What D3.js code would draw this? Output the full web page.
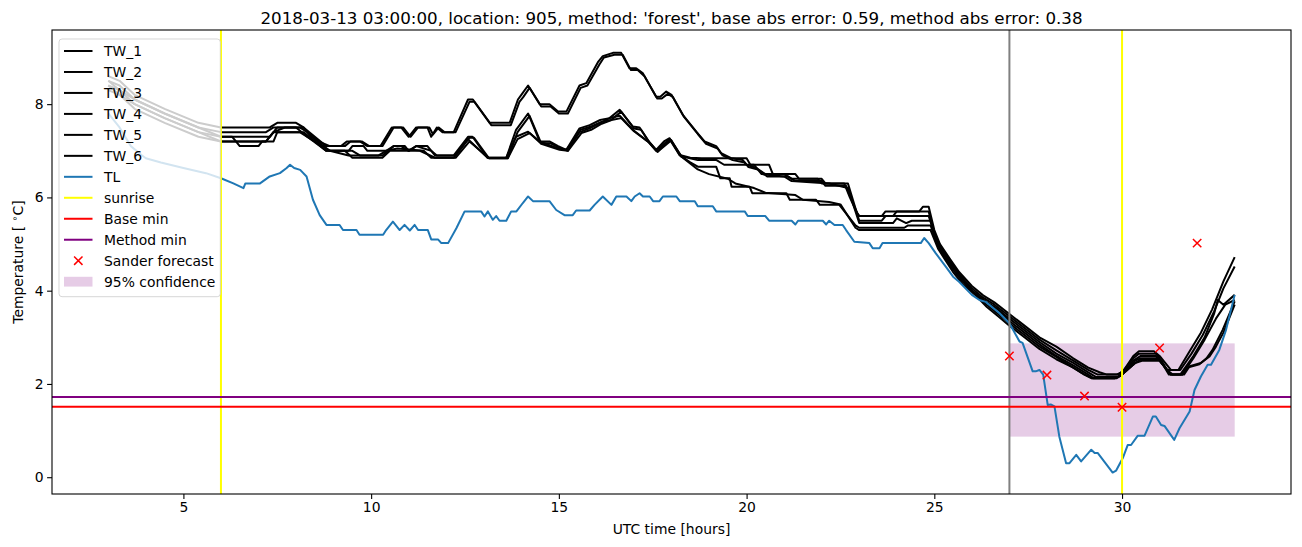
<!DOCTYPE html>
<html><head><meta charset="utf-8">
<script src="https://cdn.jsdelivr.net/npm/d3@7"></script>
<style>body{margin:0;background:#fff}svg{display:block}text{font-family:"DejaVu Sans",sans-serif;fill:#000}</style>
</head><body><svg id="c" width="1302" height="547"></svg>
<script>
// ---- data (hours, °C) ----
const tw1 = [[3,8.6],[3.3,8.5],[3.7,8.2],[4.5,7.9],[5.4,7.6],[6,7.5],[7.3,7.5],[7.5,7.6],[8.0,7.6],[8.2,7.5],[8.5,7.3],[8.8,7.1],[9.2,7.1],[9.35,7.2],[9.7,7.2],[9.9,7.1],[10.25,7.1],[10.55,7.5],[10.8,7.5],[11.0,7.3],[11.2,7.5],[11.5,7.5],[11.6,7.3],[11.75,7.5],[11.9,7.4],[12.2,7.4],[12.58,8.1],[12.71,8.1],[13.16,7.6],[13.69,7.6],[13.91,8.1],[14.0,8.2],[14.18,8.4],[14.49,8.0],[14.75,8.0],[14.98,7.84],[15.2,7.84],[15.55,8.4],[15.73,8.45],[16.04,8.9],[16.17,9.03],[16.44,9.1],[16.66,9.1],[16.88,8.77],[17.06,8.77],[17.24,8.66],[17.59,8.16],[17.7,8.16],[17.86,8.27],[18.0,8.2],[18.3,7.77],[18.66,7.41],[18.88,7.2],[19.19,7.1],[19.32,6.95],[19.59,6.84],[19.9,6.8],[20.0,6.7],[20.26,6.63],[20.5,6.5],[21.0,6.5],[21.2,6.4],[21.9,6.4],[22.0,6.3],[22.6,6.3],[22.75,6.0],[22.92,5.7],[23.0,5.6],[23.6,5.6],[23.7,5.7],[24.6,5.7],[24.7,5.8],[24.85,5.8],[25.0,5.3],[25.15,5.0],[25.4,4.7],[25.66,4.4],[26.0,4.1],[26.3,3.9],[26.6,3.75],[27.0,3.5],[27.4,3.25],[27.8,3.0],[28.25,2.8],[28.7,2.55],[29.1,2.35],[29.4,2.25],[29.6,2.2],[29.9,2.2],[30.05,2.3],[30.3,2.6],[30.45,2.7],[30.85,2.7],[31.0,2.6],[31.15,2.45],[31.3,2.3],[31.5,2.3],[31.8,2.7],[32.1,3.1],[32.4,3.6],[32.7,4.2],[33.0,4.72]];
const tw2 = [[3,8.5],[3.3,8.4],[3.7,8.1],[4.5,7.8],[5.4,7.5],[6,7.4],[7.2,7.4],[7.4,7.5],[8.1,7.5],[8.3,7.4],[8.6,7.2],[8.9,7.1],[9.3,7.1],[9.45,7.2],[9.75,7.2],[9.95,7.1],[10.3,7.1],[10.6,7.5],[10.85,7.5],[11.05,7.3],[11.25,7.5],[11.55,7.5],[11.65,7.35],[11.8,7.5],[11.95,7.4],[12.25,7.4],[12.62,8.05],[12.75,8.05],[13.2,7.55],[13.72,7.55],[13.95,8.05],[14.05,8.15],[14.22,8.35],[14.53,7.95],[14.78,7.95],[15.0,7.8],[15.24,7.8],[15.58,8.35],[15.76,8.4],[16.08,8.85],[16.2,9.0],[16.48,9.06],[16.7,9.06],[16.92,8.73],[17.1,8.73],[17.28,8.6],[17.62,8.12],[17.74,8.12],[17.9,8.22],[18.04,8.15],[18.34,7.72],[18.7,7.36],[18.92,7.15],[19.23,7.05],[19.36,6.9],[19.63,6.8],[19.95,6.75],[20.05,6.65],[20.3,6.6],[20.55,6.45],[21.1,6.45],[21.3,6.35],[22.0,6.35],[22.1,6.25],[22.65,6.25],[22.95,5.65],[23.0,5.6],[23.9,5.6],[24.0,5.7],[24.85,5.7],[25.0,5.2],[25.15,4.95],[25.4,4.65],[25.66,4.35],[26.0,4.05],[26.3,3.85],[26.6,3.7],[27.0,3.45],[27.4,3.2],[27.8,2.95],[28.25,2.72],[28.7,2.5],[29.1,2.3],[29.35,2.2],[29.85,2.2],[30.0,2.25],[30.3,2.55],[30.45,2.65],[30.9,2.65],[31.05,2.5],[31.2,2.3],[31.55,2.3],[31.85,2.65],[32.15,3.05],[32.45,3.55],[32.7,4.05],[33.0,4.52]];
const tw3 = [[3,8.5],[3.3,8.3],[3.7,8.1],[4.5,7.8],[5.4,7.5],[6,7.3],[6.3,7.3],[6.4,7.2],[7.2,7.2],[7.4,7.4],[7.7,7.5],[8.0,7.5],[8.3,7.3],[8.8,7.0],[9.4,7.0],[9.5,7.1],[9.8,7.1],[9.9,7.0],[10.4,7.0],[10.6,7.1],[10.9,7.1],[11.0,7.0],[11.2,7.1],[11.5,7.1],[11.7,6.9],[12.2,6.9],[12.58,7.3],[12.7,7.3],[13.1,6.85],[13.6,6.85],[13.86,7.45],[14.18,7.8],[14.49,7.2],[14.75,7.2],[14.98,7.1],[15.2,7.02],[15.55,7.48],[15.82,7.55],[16.1,7.66],[16.35,7.7],[16.62,7.88],[16.97,7.52],[17.15,7.5],[17.37,7.23],[17.59,7.02],[17.8,7.2],[17.95,7.27],[18.22,6.91],[18.5,6.85],[18.8,6.84],[20.0,6.84],[20.1,6.7],[20.6,6.7],[20.7,6.5],[21.3,6.5],[21.4,6.4],[22.0,6.4],[22.1,6.3],[22.7,6.3],[23.0,5.5],[23.6,5.5],[23.7,5.6],[24.4,5.6],[24.85,5.6],[25.05,5.1],[25.2,4.9],[25.45,4.6],[25.7,4.3],[26.0,4.0],[26.3,3.8],[26.6,3.65],[27.0,3.4],[27.4,3.15],[27.8,2.9],[28.25,2.65],[28.7,2.45],[29.1,2.25],[29.3,2.15],[29.9,2.15],[30.0,2.2],[30.3,2.5],[30.5,2.6],[30.9,2.6],[31.1,2.4],[31.25,2.2],[31.55,2.2],[31.9,2.6],[32.2,3.0],[32.45,3.5],[32.55,3.8],[32.7,3.7],[33.0,3.91]];
const tw4 = [[3,8.4],[3.3,8.3],[3.7,8.0],[4.5,7.7],[5.4,7.4],[6,7.3],[7.3,7.3],[7.5,7.5],[8.2,7.5],[8.4,7.3],[8.9,7.0],[9.5,7.0],[9.7,6.9],[10.3,6.9],[10.6,7.1],[10.8,7.1],[11.0,7.0],[11.2,7.1],[11.6,7.0],[11.75,6.9],[12.25,6.9],[12.62,7.28],[12.74,7.28],[13.14,6.84],[13.64,6.84],[13.9,7.4],[14.22,7.75],[14.53,7.16],[14.78,7.16],[15.02,7.06],[15.24,7.0],[15.58,7.45],[15.86,7.52],[16.14,7.62],[16.39,7.66],[16.66,7.84],[17.0,7.48],[17.19,7.45],[17.41,7.18],[17.63,6.98],[17.84,7.16],[17.99,7.23],[18.26,6.88],[18.7,6.8],[19.2,6.8],[19.4,6.7],[20.2,6.7],[20.4,6.5],[21.0,6.45],[21.2,6.35],[22.2,6.3],[22.7,6.2],[23.0,5.45],[23.9,5.45],[24.0,5.55],[24.25,5.45],[24.4,5.5],[24.9,5.5],[25.1,5.0],[25.3,4.75],[25.5,4.5],[25.7,4.3],[26.0,4.0],[26.4,3.75],[26.7,3.6],[27.0,3.35],[27.4,3.1],[27.8,2.85],[28.25,2.6],[28.7,2.4],[29.1,2.2],[29.25,2.12],[29.85,2.12],[30.0,2.2],[30.35,2.5],[30.5,2.55],[30.95,2.55],[31.15,2.35],[31.3,2.2],[31.6,2.2],[31.9,2.55],[32.2,2.95],[32.5,3.4],[32.75,3.7],[33.0,3.8]];
const tw5 = [[3,8.4],[3.3,8.2],[3.7,8.0],[4.5,7.7],[5.4,7.4],[6,7.2],[6.4,7.2],[6.5,7.1],[7.0,7.1],[7.1,7.2],[7.4,7.2],[7.5,7.4],[8.2,7.4],[8.5,7.2],[8.8,7.0],[9.3,7.0],[9.5,6.85],[10.3,6.85],[10.5,7.0],[11.3,7.0],[11.7,6.85],[12.2,6.85],[12.58,7.25],[13.1,6.85],[13.6,6.85],[13.86,7.3],[14.18,7.41],[14.49,7.2],[14.98,7.05],[15.2,7.02],[15.55,7.4],[15.82,7.48],[16.1,7.6],[16.35,7.7],[16.62,7.75],[16.97,7.45],[17.37,7.2],[17.59,7.0],[17.95,7.25],[18.22,6.9],[18.5,6.75],[18.7,6.66],[19.19,6.66],[19.3,6.41],[19.55,6.41],[19.6,6.23],[20.08,6.23],[20.15,6.09],[21.06,6.09],[21.15,5.95],[21.85,5.95],[21.95,5.84],[22.47,5.84],[22.9,5.4],[23.0,5.35],[24.2,5.35],[24.3,5.4],[24.9,5.4],[25.1,4.95],[25.3,4.7],[25.5,4.45],[25.75,4.2],[26.05,3.95],[26.4,3.7],[26.7,3.5],[27.0,3.3],[27.4,3.05],[27.8,2.8],[28.25,2.58],[28.7,2.35],[29.0,2.2],[29.2,2.12],[29.8,2.12],[30.0,2.2],[30.35,2.45],[30.5,2.52],[31.0,2.52],[31.15,2.35],[31.3,2.2],[31.6,2.2],[31.75,2.35],[32.06,2.42],[32.25,2.55],[32.41,2.73],[32.68,3.16],[33.0,3.77]];
const tw6 = [[3,8.3],[3.3,8.2],[3.7,7.9],[4.5,7.6],[5.4,7.3],[6,7.2],[7.2,7.2],[7.4,7.4],[8.1,7.4],[8.3,7.3],[8.7,7.1],[8.9,7.0],[9.4,6.9],[10.2,6.9],[10.4,7.0],[10.7,7.05],[11.4,7.0],[11.6,6.85],[12.25,6.85],[12.62,7.2],[13.14,6.84],[13.64,6.84],[13.9,7.25],[14.22,7.38],[14.53,7.15],[15.02,7.02],[15.24,7.0],[15.6,7.38],[15.86,7.45],[16.14,7.58],[16.4,7.66],[16.66,7.7],[17.0,7.42],[17.4,7.18],[17.63,6.98],[17.99,7.22],[18.26,6.88],[18.7,6.6],[19.0,6.5],[19.5,6.4],[19.7,6.3],[20.2,6.2],[20.5,6.1],[21.3,6.05],[21.5,5.95],[22.2,5.9],[22.5,5.85],[22.9,5.35],[23.0,5.3],[24.9,5.3],[25.1,4.9],[25.3,4.65],[25.5,4.4],[25.75,4.15],[26.1,3.9],[26.4,3.65],[26.7,3.45],[27.0,3.25],[27.4,3.0],[27.8,2.75],[28.25,2.53],[28.7,2.35],[29.0,2.2],[29.2,2.12],[29.8,2.12],[30.0,2.2],[30.35,2.45],[30.55,2.5],[31.0,2.5],[31.2,2.3],[31.35,2.2],[31.65,2.2],[31.8,2.38],[32.1,2.45],[32.33,2.59],[32.5,2.8],[32.7,3.1],[33.0,3.7]];
const tl = [[3.0,7.8],[3.3,7.5],[3.6,7.1],[3.9,6.9],[4.0,6.84],[4.4,6.75],[5.0,6.63],[5.6,6.52],[6.0,6.41],[6.33,6.3],[6.6,6.2],[6.65,6.3],[7.04,6.3],[7.3,6.45],[7.57,6.52],[7.75,6.63],[7.84,6.7],[7.95,6.63],[8.11,6.59],[8.28,6.45],[8.45,5.95],[8.63,5.62],[8.81,5.41],[9.16,5.41],[9.25,5.3],[9.61,5.3],[9.69,5.2],[10.32,5.2],[10.4,5.3],[10.58,5.48],[10.76,5.3],[10.89,5.41],[11.03,5.29],[11.16,5.41],[11.25,5.3],[11.51,5.3],[11.6,5.1],[11.78,5.1],[11.87,5.02],[12.05,5.02],[12.27,5.34],[12.49,5.7],[12.93,5.7],[13.02,5.59],[13.11,5.7],[13.24,5.52],[13.33,5.6],[13.42,5.5],[13.6,5.5],[13.73,5.7],[13.87,5.7],[14.04,5.88],[14.18,6.02],[14.31,5.92],[14.75,5.92],[14.93,5.73],[15.15,5.62],[15.37,5.62],[15.46,5.72],[15.82,5.72],[15.95,5.84],[16.17,6.02],[16.4,5.84],[16.53,6.02],[16.8,6.02],[16.93,5.92],[17.02,6.02],[17.15,6.09],[17.24,6.02],[17.42,6.02],[17.51,5.92],[17.68,5.92],[17.77,6.02],[18.13,6.02],[18.22,5.92],[18.62,5.92],[18.7,5.81],[19.1,5.81],[19.19,5.7],[19.95,5.7],[20.03,5.6],[20.5,5.6],[20.6,5.5],[21.2,5.5],[21.3,5.42],[21.37,5.5],[22.03,5.5],[22.12,5.42],[22.2,5.5],[22.34,5.41],[22.56,5.41],[22.65,5.3],[22.87,5.05],[23.27,5.02],[23.36,4.91],[23.54,4.91],[23.62,5.02],[24.64,5.02],[24.73,5.13],[24.85,5.02],[25.04,4.8],[25.31,4.51],[25.5,4.3],[25.66,4.19],[26.0,3.91],[26.2,3.8],[26.37,3.76],[26.73,3.52],[27.0,3.3],[27.27,2.91],[27.35,2.88],[27.62,2.27],[27.7,2.27],[27.8,2.3],[27.9,2.2],[28.02,1.55],[28.1,1.56],[28.2,1.52],[28.33,0.87],[28.51,0.3],[28.6,0.3],[28.78,0.48],[28.91,0.34],[29.18,0.59],[29.27,0.52],[29.35,0.52],[29.75,0.1],[29.84,0.14],[30.02,0.41],[30.15,0.69],[30.24,0.69],[30.42,0.89],[30.6,0.89],[30.82,1.3],[30.9,1.3],[31.04,1.12],[31.13,1.1],[31.39,0.8],[31.53,1.05],[31.8,1.41],[31.93,1.87],[32.1,2.16],[32.28,2.41],[32.37,2.41],[32.59,2.73],[32.77,3.16],[33.0,3.91]];
const twNames = ["TW_1","TW_2","TW_3","TW_4","TW_5","TW_6"];
const sanderHours = [27,28,29,30,31,32];
const sanderTemps = [2.6,2.19,1.74,1.5,2.77,5.02];
const sunriseHours = [6,30];
const issueHour = 27;
const baseMin = 1.51;
const methodMin = 1.72;
const confRange = [0.87, 2.87];
const confHours = [27, 33];
const xTicks = [5,10,15,20,25,30];
const yTicks = [0,2,4,6,8];
const titleText = "2018-03-13 03:00:00, location: 905, method: 'forest', base abs error: 0.59, method abs error: 0.38";

// ---- layout ----
const L=52,R=1291,T=30,B=494;
const svg=d3.select("#c");
const x=d3.scaleLinear().domain([1.5,34.5]).range([L,R]);
const y=d3.scaleLinear().domain([-0.36,9.59]).range([B,T]);
svg.append("defs").append("clipPath").attr("id","clip").append("rect").attr("x",L).attr("y",T).attr("width",R-L).attr("height",B-T);
const g=svg.append("g").attr("clip-path","url(#clip)");
const line=d3.line().x(d=>x(d[0])).y(d=>y(d[1]));

// confidence patch
g.append("rect").attr("x",x(confHours[0])).attr("width",x(confHours[1])-x(confHours[0]))
 .attr("y",y(confRange[1])).attr("height",y(confRange[0])-y(confRange[1]))
 .attr("fill","purple").attr("fill-opacity",0.2);

[tw1,tw2,tw3,tw4,tw5,tw6].forEach(s=>{
  g.append("path").attr("d",line(s)).attr("fill","none").attr("stroke","#000").attr("stroke-width",2).attr("stroke-linejoin","round");
});
g.append("path").attr("d",line(tl)).attr("fill","none").attr("stroke","#1f77b4").attr("stroke-width",2).attr("stroke-linejoin","round");

sunriseHours.forEach(h=>{
  g.append("line").attr("x1",x(h)).attr("x2",x(h)).attr("y1",T).attr("y2",B).attr("stroke","#ffff00").attr("stroke-width",2);
});
g.append("line").attr("x1",x(issueHour)).attr("x2",x(issueHour)).attr("y1",T).attr("y2",B).attr("stroke","gray").attr("stroke-width",2);
g.append("line").attr("x1",L).attr("x2",R).attr("y1",y(baseMin)).attr("y2",y(baseMin)).attr("stroke","red").attr("stroke-width",2);
g.append("line").attr("x1",L).attr("x2",R).attr("y1",y(methodMin)).attr("y2",y(methodMin)).attr("stroke","purple").attr("stroke-width",2);

function xMark(sel,cx,cy,r){
  sel.append("path").attr("d",`M${cx-r},${cy-r}L${cx+r},${cy+r}M${cx-r},${cy+r}L${cx+r},${cy-r}`)
   .attr("stroke","red").attr("stroke-width",1.5).attr("fill","none");
}
sanderHours.forEach((h,i)=>xMark(g,x(h),y(sanderTemps[i]),4.2));

// axes
const fs="13.9px";
const xa=svg.append("g").attr("transform",`translate(0,${B})`).call(d3.axisBottom(x).tickValues(xTicks).tickSize(4.9).tickPadding(3.5).tickFormat(d3.format("d")));
const ya=svg.append("g").attr("transform",`translate(${L},0)`).call(d3.axisLeft(y).tickValues(yTicks).tickSize(4.9).tickPadding(3.5).tickFormat(d3.format("d")));
[xa,ya].forEach(a=>{a.select(".domain").remove();a.selectAll("line").attr("stroke","#000").attr("stroke-width",1.1);
  a.selectAll("text").attr("font-family","DejaVu Sans").attr("font-size",fs).attr("fill","#000");});
svg.append("rect").attr("x",L).attr("y",T).attr("width",R-L).attr("height",B-T).attr("fill","none").attr("stroke","#000").attr("stroke-width",1.1);

svg.append("text").attr("x",(L+R)/2).attr("y",23.5).attr("text-anchor","middle").attr("font-size","16.7px").text(titleText);
svg.append("text").attr("x",(L+R)/2).attr("y",534).attr("text-anchor","middle").attr("font-size",fs).text("UTC time [hours]");
const yl=svg.append("text").attr("transform",`translate(23,${(T+B)/2}) rotate(-90)`).attr("text-anchor","middle").attr("font-size",fs);
yl.append("tspan").text("Temperature [ ");
yl.append("tspan").attr("font-size","9.7px").attr("dy",-5).text("∘");
yl.append("tspan").attr("dy",5).text("C]");

// legend
const lg=svg.append("g");
lg.append("rect").attr("x",59).attr("y",39).attr("width",161.3).attr("height",257.7).attr("rx",3)
 .attr("fill","#fff").attr("fill-opacity",0.8).attr("stroke","#ccc").attr("stroke-opacity",0.8).attr("stroke-width",1);
const entries=[...twNames.map(n=>({n,t:"line",c:"#000"})),{n:"TL",t:"line",c:"#1f77b4"},{n:"sunrise",t:"line",c:"#ffff00"},
 {n:"Base min",t:"line",c:"red"},{n:"Method min",t:"line",c:"purple"},{n:"Sander forecast",t:"x"},{n:"95% confidence",t:"patch"}];
entries.forEach((e,i)=>{
  const cy=51+i*20.97;
  if(e.t==="line") lg.append("line").attr("x1",64).attr("x2",92.5).attr("y1",cy).attr("y2",cy).attr("stroke",e.c).attr("stroke-width",2);
  else if(e.t==="x") xMark(lg,78.3,cy,4.2);
  else lg.append("rect").attr("x",64).attr("y",cy-4.9).attr("width",28.5).attr("height",9.8).attr("fill","purple").attr("fill-opacity",0.2);
  lg.append("text").attr("x",104).attr("y",cy+5).attr("font-size",fs).text(e.n);
});
</script></body></html>
